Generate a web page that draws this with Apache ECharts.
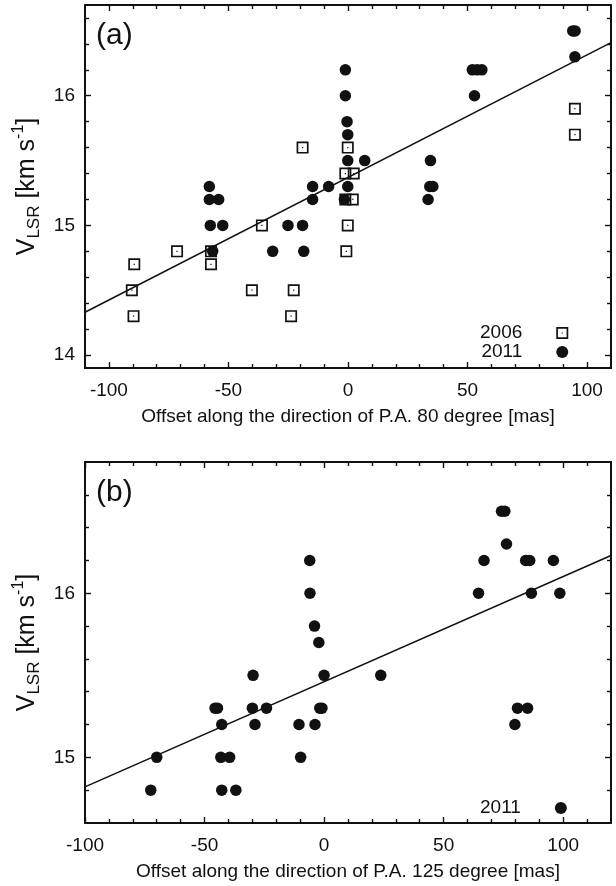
<!DOCTYPE html>
<html><head><meta charset="utf-8">
<script src="https://cdn.jsdelivr.net/npm/echarts@6/dist/echarts.min.js"></script>
<style>html,body{margin:0;padding:0;background:#fff}#c{width:616px;height:886px}</style>
</head><body><div id="c"></div>
<script>
const FONT = "'Liberation Sans', Arial, Helvetica, sans-serif";
const INK = '#111';

// ---- Panel (a): offset along P.A. 80 degree ----
const a2006X = [-90.4, -89.4, -89.7, -71.5, -57.3, -57.3, -36.0, -40.2, -22.7, -23.8, -19.0, -0.1, -1.1, 2.4, -1.1, 2.0, -0.1, -0.7, 94.9, 94.9];
const a2006Y = [14.5, 14.7, 14.3, 14.8, 14.8, 14.7, 15.0, 14.5, 14.5, 14.3, 15.6, 15.6, 15.4, 15.4, 15.2, 15.2, 15.0, 14.8, 15.9, 15.7];
const a2011X = [-58.0, -58.0, -54.1, -57.6, -52.4, -56.6, -31.5, -25.1, -19.0, -18.5, -14.8, -14.8, -8.1, -1.1, -1.1, -0.4, -0.1, -0.1, 7.0, -0.1, -1.5, 34.5, 34.2, 35.5, 33.5, 52.0, 54.0, 56.0, 52.9, 94.0, 95.0, 94.9];
const a2011Y = [15.3, 15.2, 15.2, 15.0, 15.0, 14.8, 14.8, 15.0, 15.0, 14.8, 15.3, 15.2, 15.3, 16.2, 16.0, 15.8, 15.7, 15.5, 15.5, 15.3, 15.2, 15.5, 15.3, 15.3, 15.2, 16.2, 16.2, 16.2, 16.0, 16.5, 16.5, 16.3];
const aFitX = [-110, 110];
const aFitY = [14.33, 16.41];
const aXRange = [-110, 110];
const aYRange = [13.9, 16.7];
const aXLabels = [-100, -50, 0, 50, 100];
const aXMinor = [-90, -80, -70, -60, -40, -30, -20, -10, 10, 20, 30, 40, 60, 70, 80, 90];
const aYLabels = [14, 15, 16];
const aYMinor = [14.2, 14.4, 14.6, 14.8, 15.2, 15.4, 15.6, 15.8, 16.2, 16.4, 16.6];
const aXTitle = 'Offset along the direction of P.A. 80 degree [mas]';

// ---- Panel (b): offset along P.A. 125 degree ----
const b2011X = [-72.5, -70.0, -45.6, -44.6, -42.8, -43.2, -39.5, -42.8, -36.9, -29.7, -30.0, -28.9, -24.1, -10.5, -9.8, -6.0, -5.9, -4.0, -2.2, 0.0, -1.8, -0.9, -3.8, 23.7, 64.6, 66.9, 74.2, 75.6, 76.3, 84.3, 86.0, 86.7, 95.9, 98.6, 80.9, 85.1, 79.8];
const b2011Y = [14.8, 15.0, 15.3, 15.3, 15.2, 15.0, 15.0, 14.8, 14.8, 15.5, 15.3, 15.2, 15.3, 15.2, 15.0, 16.2, 16.0, 15.8, 15.7, 15.5, 15.3, 15.3, 15.2, 15.5, 16.0, 16.2, 16.5, 16.5, 16.3, 16.2, 16.2, 16.0, 16.2, 16.0, 15.3, 15.3, 15.2];
const bFitX = [-100, 120];
const bFitY = [14.82, 16.23];
const bXRange = [-100, 120];
const bYRange = [14.6, 16.8];
const bXLabels = [-100, -50, 0, 50, 100];
const bXMinor = [-90, -80, -70, -60, -40, -30, -20, -10, 10, 20, 30, 40, 60, 70, 80, 90, 110];
const bYLabels = [15, 16];
const bYMinor = [14.8, 15.2, 15.4, 15.6, 15.8, 16.2, 16.4, 16.6];
const bXTitle = 'Offset along the direction of P.A. 125 degree [mas]';

const seriesNames = ['2006', '2011'];
const yTitle = '{v|V}{s|LSR}{t| [km s}{p|-1}{t|]}';

const pairs = (xs, ys) => xs.map((x, i) => [x, ys[i]]);
const SQUARE = 'path://M0 0H100V100H0Z M14 14V86H86V14Z M45 45H55V55H45Z';

function axisSet(dim, gi, range, labels, minor, title) {
  const isX = dim === 'x';
  const sides = isX ? ['bottom', 'top'] : ['left', 'right'];
  const out = [];
  sides.forEach((pos, k) => {
    [true, false].forEach(isMajor => {
      const ax = {
        type: 'value', gridIndex: gi, position: pos, min: range[0], max: range[1],
        splitLine: { show: false },
        axisLine: { show: isMajor, onZero: false, lineStyle: { color: INK, width: 2 } },
        axisTick: { show: true, inside: true, length: isMajor ? 6 : 4,
          customValues: isMajor ? labels : minor, lineStyle: { color: INK, width: 1.4 } },
        axisLabel: { show: isMajor && k === 0, customValues: labels,
          fontFamily: FONT, fontSize: 19, color: INK, margin: isX ? 13 : 10 }
      };
      if (isMajor && k === 0) {
        if (isX) {
          Object.assign(ax, { name: title, nameLocation: 'middle', nameGap: 39,
            nameTextStyle: { fontFamily: FONT, fontSize: 19, color: INK } });
        } else {
          Object.assign(ax, { name: yTitle, nameLocation: 'middle', nameRotate: 90, nameGap: 38,
            nameTextStyle: { fontFamily: FONT, color: INK, rich: {
              v: { fontFamily: FONT, fontSize: 25, lineHeight: 32, color: INK },
              t: { fontFamily: FONT, fontSize: 25, lineHeight: 32, color: INK },
              s: { fontFamily: FONT, fontSize: 17, lineHeight: 17, verticalAlign: 'bottom', color: INK },
              p: { fontFamily: FONT, fontSize: 16, lineHeight: 16, verticalAlign: 'top', color: INK }
            } } });
        }
      }
      out.push(ax);
    });
  });
  return out;
}

const xAxes = [...axisSet('x', 0, aXRange, aXLabels, aXMinor, aXTitle), ...axisSet('x', 1, bXRange, bXLabels, bXMinor, bXTitle)];
const yAxes = [...axisSet('y', 0, aYRange, aYLabels, aYMinor), ...axisSet('y', 1, bYRange, bYLabels, bYMinor)];

const fitLine = (gi, xs, ys) => ({ type: 'line', xAxisIndex: gi * 4, yAxisIndex: gi * 4, data: pairs(xs, ys),
  showSymbol: false, symbol: 'none', silent: true, z: 1, lineStyle: { color: INK, width: 1.5 } });
const squares = (gi, xs, ys) => ({ name: seriesNames[0], type: 'scatter', xAxisIndex: gi * 4, yAxisIndex: gi * 4,
  data: pairs(xs, ys), symbol: SQUARE, symbolSize: 12, itemStyle: { color: INK, opacity: 1 }, z: 2 });
const circles = (gi, xs, ys) => ({ name: seriesNames[1], type: 'scatter', xAxisIndex: gi * 4, yAxisIndex: gi * 4,
  data: pairs(xs, ys), symbol: 'circle', symbolSize: 11.5, itemStyle: { color: INK, opacity: 1 }, z: 3 });

const legendBase = { orient: 'vertical', align: 'right', itemWidth: 70, itemHeight: 12, itemGap: 0, padding: 0,
  selectedMode: false, textStyle: { fontFamily: FONT, fontSize: 19, color: INK } };

const option = {
  animation: false,
  backgroundColor: '#fff',
  grid: [
    { left: 85, top: 5, width: 526, height: 363 },
    { left: 85, top: 462, width: 526, height: 361 }
  ],
  xAxis: xAxes,
  yAxis: yAxes,
  legend: [
    Object.assign({}, legendBase, { left: 480, top: 323.5, data: seriesNames }),
    Object.assign({}, legendBase, { left: 480, top: 798.5, data: [seriesNames[1]] })
  ],
  graphic: [
    { type: 'text', left: 96, top: 21, style: { text: '(a)', font: '30px ' + FONT, fill: INK } },
    { type: 'text', left: 96, top: 478, style: { text: '(b)', font: '30px ' + FONT, fill: INK } }
  ],
  series: [
    fitLine(0, aFitX, aFitY),
    squares(0, a2006X, a2006Y),
    circles(0, a2011X, a2011Y),
    fitLine(1, bFitX, bFitY),
    circles(1, b2011X, b2011Y)
  ]
};

const chart = echarts.init(document.getElementById('c'), null, { renderer: 'canvas' });
chart.setOption(option);
</script>
</body></html>
